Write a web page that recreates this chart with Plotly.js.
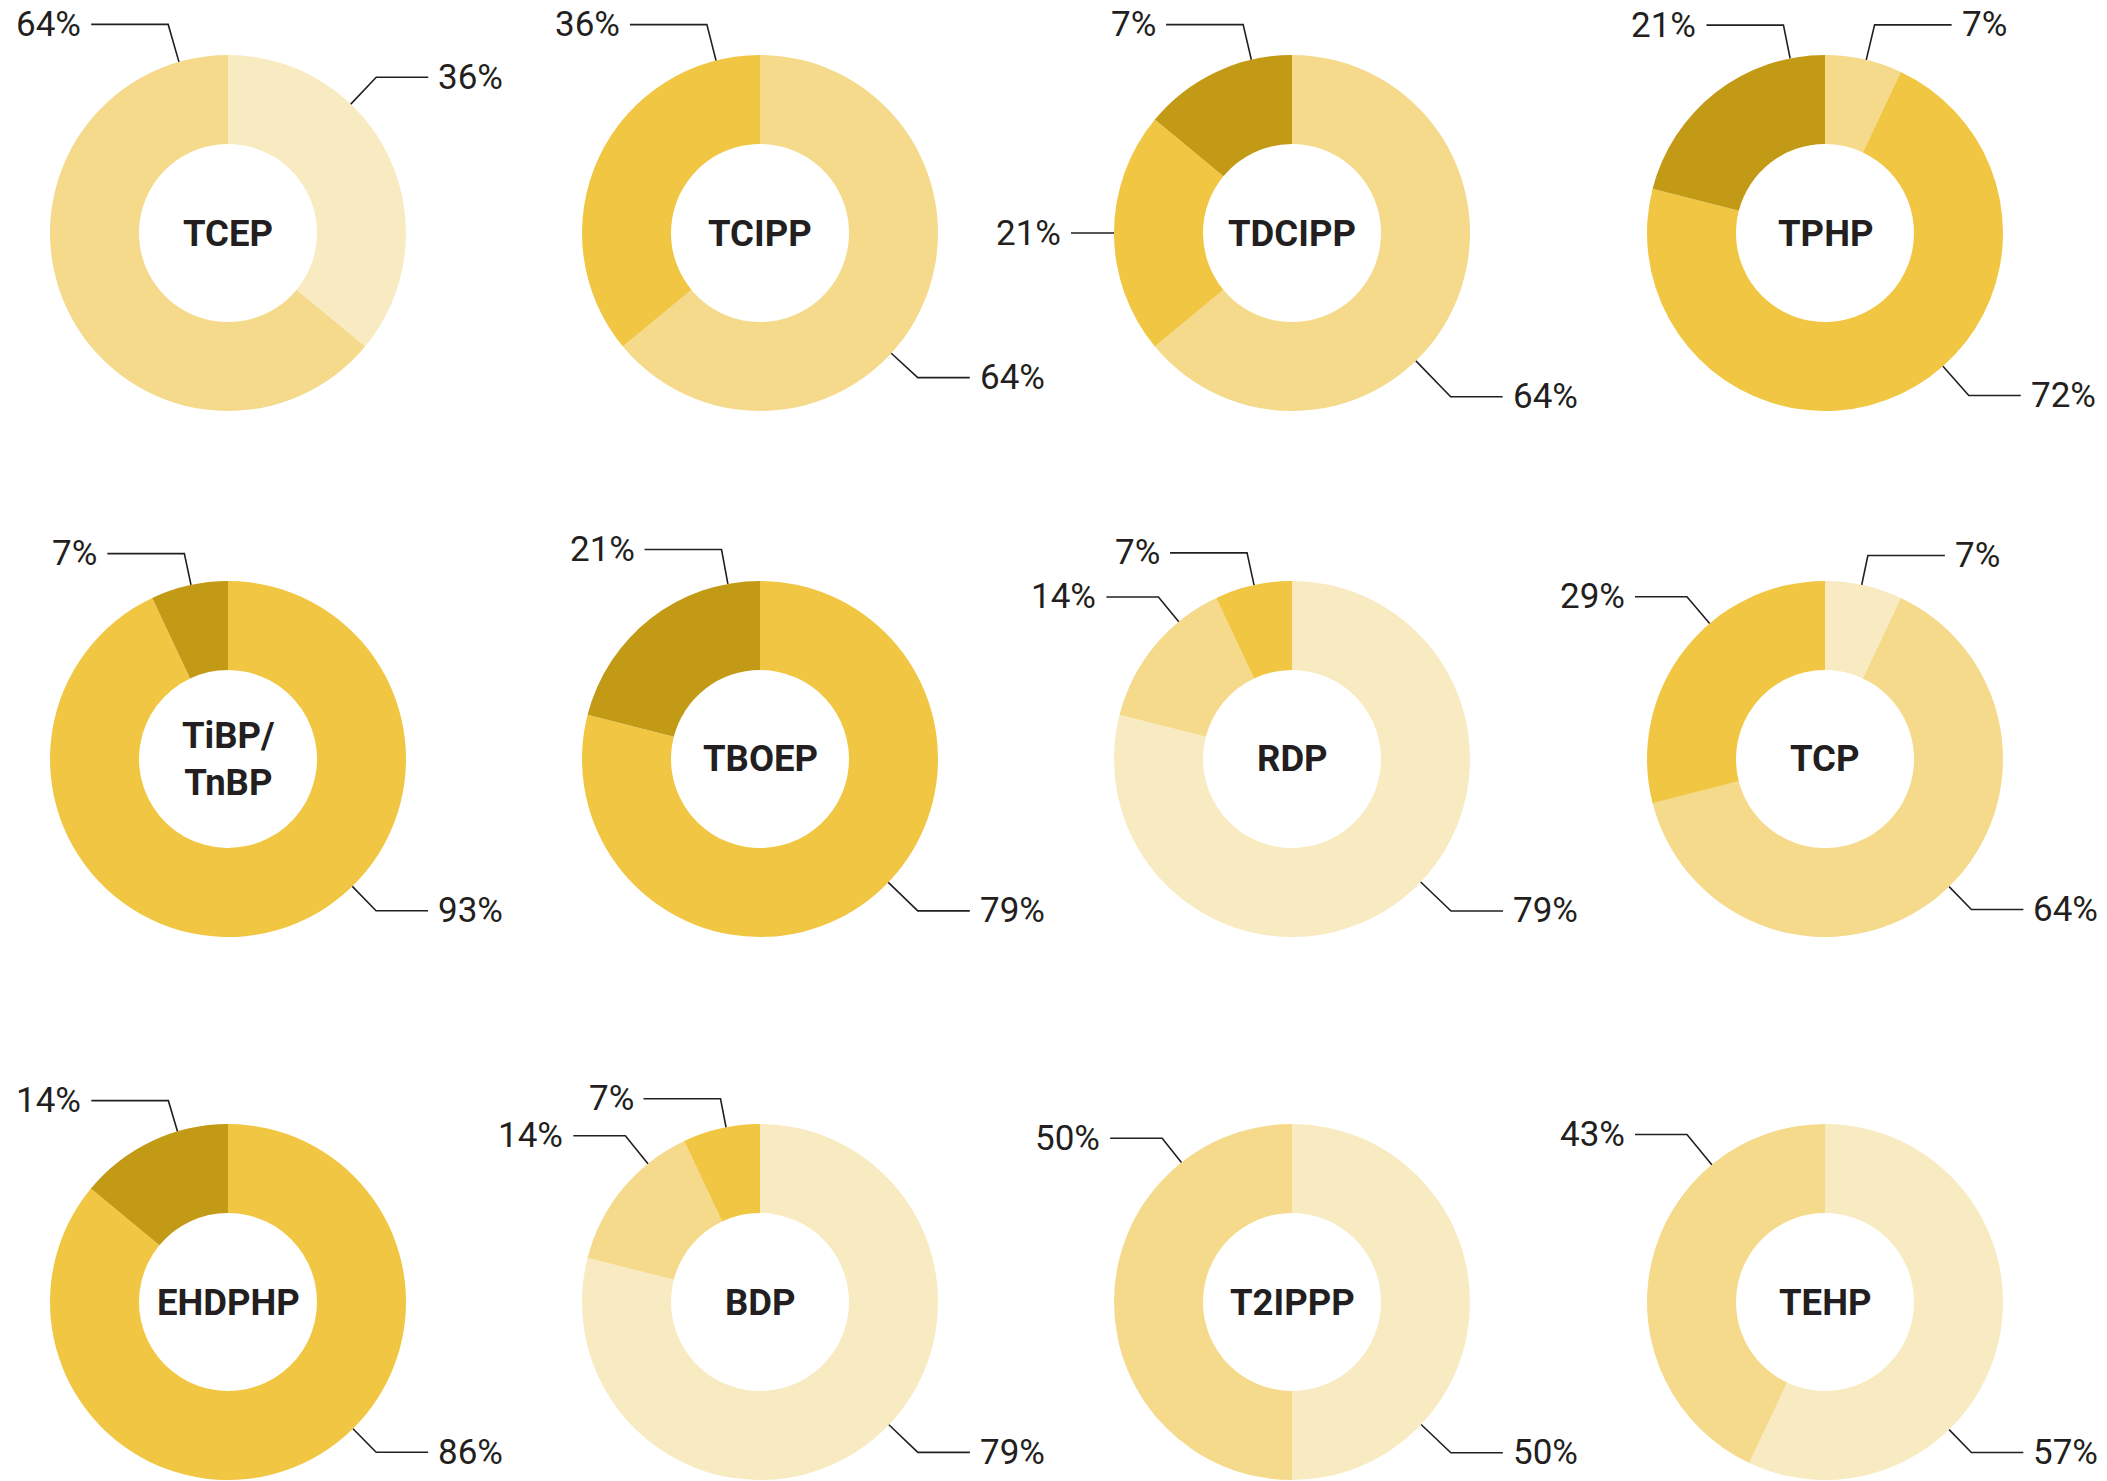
<!DOCTYPE html>
<html>
<head>
<meta charset="utf-8">
<script src="https://cdn.plot.ly/plotly-3.0.1.min.js"></script>
<style>
  html, body { margin: 0; padding: 0; background: #ffffff; }
  #chart { width: 2107px; height: 1481px; }
</style>
</head>
<body>
<div id="chart"></div>
<script>
// ---------- data ----------
const compounds = ['TCEP', 'TCIPP', 'TDCIPP', 'TPHP',
                   'TiBP/<br>TnBP', 'TBOEP', 'RDP', 'TCP',
                   'EHDPHP', 'BDP', 'T2IPPP', 'TEHP'];
const sliceValues = [
  [36, 64], [64, 36], [64, 22, 14], [7, 72, 21],
  [93, 7], [79, 21], [79, 14, 7], [7, 64, 29],
  [86, 14], [79, 14, 7], [50, 50], [57, 43]
];
const sliceLabels = [
  ['36%', '64%'], ['64%', '36%'], ['64%', '21%', '7%'], ['7%', '72%', '21%'],
  ['93%', '7%'], ['79%', '21%'], ['79%', '14%', '7%'], ['7%', '64%', '29%'],
  ['86%', '14%'], ['79%', '14%', '7%'], ['50%', '50%'], ['57%', '43%']
];

// ---------- style / layout config ----------
const palette = ['#F8EBC1', '#F5DA8C', '#F0C642', '#C39A15'];
const sliceShades = [
  [0, 1], [1, 2], [1, 2, 3], [1, 2, 3],
  [2, 3], [2, 3], [0, 1, 2], [0, 1, 2],
  [2, 3], [0, 1, 2], [0, 1], [0, 1]
];
// leader-line elbow for each label: angle (deg, clockwise from 12 o'clock) and radius (px)
const labelAngles = [
  [43.6, -16], [132.5, -14.3], [135.9, 270, -13.2], [13.4, 138.5, -11.3],
  [135.7, -12], [133.9, -10.4], [133.7, -39.5, -12.3], [11.9, 135.8, -40.4],
  [135.4, -16.5], [133.6, -39.0, -11], [133.5, -38.4], [135.8, -39.5]
];
const labelRadii = [
  [215, 217], [214, 215], [228, 212, 214], [214, 217, 212],
  [212, 210], [219, 213], [220, 210, 211], [208, 210, 213],
  [211, 210], [218, 214, 207], [219, 209], [210, 217]
];

const W = 2107, H = 1481;
const colCenters = [228, 760, 1292, 1825];
const rowCenters = [233, 759, 1302];
const R = 178;          // outer radius (px)
const GAP = 8;          // gap between line end and text
const ink = '#231F20';

const px = x => x / W;
const py = y => 1 - y / H;

const traces = [];
const shapes = [];
const annotations = [];

compounds.forEach((name, i) => {
  const cx = colCenters[i % 4];
  const cy = rowCenters[Math.floor(i / 4)];
  traces.push({
    type: 'pie',
    values: sliceValues[i],
    labels: sliceLabels[i].map((t, j) => name + ' ' + j),
    marker: { colors: sliceShades[i].map(k => palette[k]), line: { width: 0 } },
    hole: 0.5,
    sort: false,
    direction: 'clockwise',
    rotation: 0,
    textinfo: 'none',
    hoverinfo: 'none',
    showlegend: false,
    domain: { x: [px(cx - R), px(cx + R)], y: [py(cy + R), py(cy - R)] }
  });

  annotations.push({
    xref: 'paper', yref: 'paper',
    x: px(cx), y: py(cy),
    xanchor: 'center', yanchor: 'middle',
    text: '<b>' + name + '</b>',
    showarrow: false,
    font: { family: 'Roboto, Arial, sans-serif', size: 36.5, color: ink }
  });

  sliceLabels[i].forEach((lab, j) => {
    const a = labelAngles[i][j] * Math.PI / 180;
    const re = labelRadii[i][j];
    const s = Math.sin(a), c = Math.cos(a);
    const x0 = cx + R * s, y0 = cy - R * c;
    const xe = cx + re * s, ye = cy - re * c;
    let L;
    if (Math.abs(s) > 0.99) L = 9;
    else if (c > 0.93) L = 77;
    else L = 52;
    const dir = s > 0 ? 1 : -1;
    const x2 = xe + dir * L;
    shapes.push({
      type: 'path', xref: 'paper', yref: 'paper',
      path: 'M ' + px(x0) + ' ' + py(y0) + ' L ' + px(xe) + ' ' + py(ye) + ' L ' + px(x2) + ' ' + py(ye),
      line: { color: ink, width: 1.6 }
    });
    annotations.push({
      xref: 'paper', yref: 'paper',
      x: px(x2 + dir * GAP), y: py(ye),
      xanchor: dir > 0 ? 'left' : 'right', yanchor: 'middle',
      text: lab, showarrow: false,
      font: { family: 'Roboto, Arial, sans-serif', size: 35, color: ink }
    });
  });
});

const layout = {
  width: W, height: H,
  margin: { l: 0, r: 0, t: 0, b: 0, pad: 0 },
  paper_bgcolor: '#ffffff',
  plot_bgcolor: '#ffffff',
  showlegend: false,
  shapes: shapes,
  annotations: annotations
};

Plotly.newPlot('chart', traces, layout, { displayModeBar: false, staticPlot: true });
</script>
</body>
</html>
